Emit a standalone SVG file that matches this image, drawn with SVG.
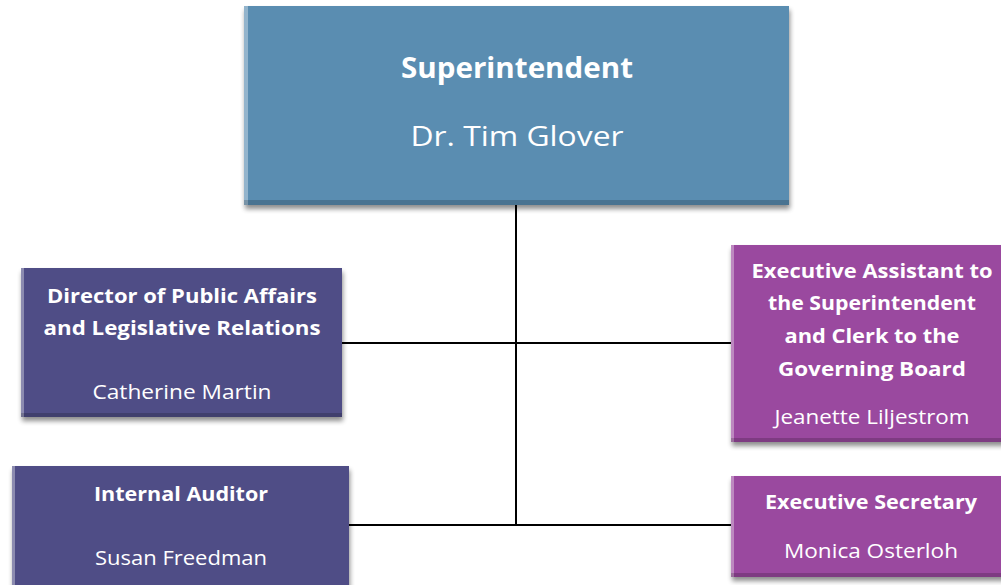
<svg xmlns="http://www.w3.org/2000/svg" width="1001" height="585" viewBox="0 0 1001 585">
<defs>
<filter id="sh" x="-10%" y="-10%" width="120%" height="130%">
<feGaussianBlur in="SourceAlpha" stdDeviation="2.5"/>
<feOffset dx="1" dy="4" result="b"/>
<feComponentTransfer><feFuncA type="linear" slope="0.45"/></feComponentTransfer>
<feMerge><feMergeNode/><feMergeNode in="SourceGraphic"/></feMerge>
</filter>
</defs>
<style>
.t{font-family:"Open Sans",Lato,"Liberation Sans",sans-serif;fill:#fff;text-anchor:middle}
.b{font-weight:bold}
.c{stroke:#000;stroke-width:2;fill:none}
.blue{fill:#5a8db1}
.ind{fill:#4f4e86}
.pur{fill:#9a4a9f}
.hl{fill:#fff;opacity:0.35}
.dk{fill:#000;opacity:0.18}
</style>
<rect width="1001" height="585" fill="#fff"/>
<g id="connectors">
<line class="c" x1="516" y1="205" x2="516" y2="526"/>
<line class="c" x1="342" y1="343" x2="731" y2="343"/>
<line class="c" x1="349" y1="525" x2="731" y2="525"/>
</g>
<g id="superintendent">
<rect class="blue" x="244" y="6" width="545" height="199" filter="url(#sh)"/>
<rect class="hl" x="244" y="6" width="4" height="199"/>
<rect class="dk" x="244" y="200" width="545" height="5"/>
<text class="t b" x="517" y="78" font-size="28" textLength="232" lengthAdjust="spacingAndGlyphs">Superintendent</text>
<text class="t" x="517" y="146" font-size="28" textLength="213" lengthAdjust="spacingAndGlyphs">Dr. Tim Glover</text>
</g>
<g id="director">
<rect class="ind" x="21" y="268" width="321" height="149" filter="url(#sh)"/>
<rect class="hl" x="21" y="268" width="3" height="149"/>
<rect class="dk" x="21" y="413" width="321" height="4"/>
<text class="t b" x="182" y="303" font-size="20" textLength="270" lengthAdjust="spacingAndGlyphs">Director of Public Affairs</text>
<text class="t b" x="182" y="335" font-size="20" textLength="277" lengthAdjust="spacingAndGlyphs">and Legislative Relations</text>
<text class="t" x="182" y="399" font-size="20" textLength="179" lengthAdjust="spacingAndGlyphs">Catherine Martin</text>
</g>
<g id="exec-assistant">
<rect class="pur" x="731" y="245" width="275" height="197" filter="url(#sh)"/>
<rect class="hl" x="731" y="245" width="3" height="197"/>
<rect class="dk" x="731" y="438" width="275" height="4"/>
<text class="t b" x="872" y="278" font-size="20" textLength="241" lengthAdjust="spacingAndGlyphs">Executive Assistant to</text>
<text class="t b" x="872" y="310" font-size="20" textLength="208" lengthAdjust="spacingAndGlyphs">the Superintendent</text>
<text class="t b" x="872" y="343" font-size="20" textLength="175" lengthAdjust="spacingAndGlyphs">and Clerk to the</text>
<text class="t b" x="872" y="376" font-size="20" textLength="188" lengthAdjust="spacingAndGlyphs">Governing Board</text>
<text class="t" x="872" y="424" font-size="20" textLength="195" lengthAdjust="spacingAndGlyphs">Jeanette Liljestrom</text>
</g>
<g id="auditor">
<rect class="ind" x="12" y="466" width="337" height="125" filter="url(#sh)"/>
<rect class="hl" x="12" y="466" width="3" height="125"/>
<text class="t b" x="181" y="501" font-size="20" textLength="174" lengthAdjust="spacingAndGlyphs">Internal Auditor</text>
<text class="t" x="181" y="565" font-size="20" textLength="172" lengthAdjust="spacingAndGlyphs">Susan Freedman</text>
</g>
<g id="exec-secretary">
<rect class="pur" x="731" y="476" width="275" height="101" filter="url(#sh)"/>
<rect class="hl" x="731" y="476" width="3" height="101"/>
<rect class="dk" x="731" y="573" width="275" height="4"/>
<text class="t b" x="871" y="509" font-size="20" textLength="212" lengthAdjust="spacingAndGlyphs">Executive Secretary</text>
<text class="t" x="871" y="558" font-size="20" textLength="174" lengthAdjust="spacingAndGlyphs">Monica Osterloh</text>
</g>
</svg>
